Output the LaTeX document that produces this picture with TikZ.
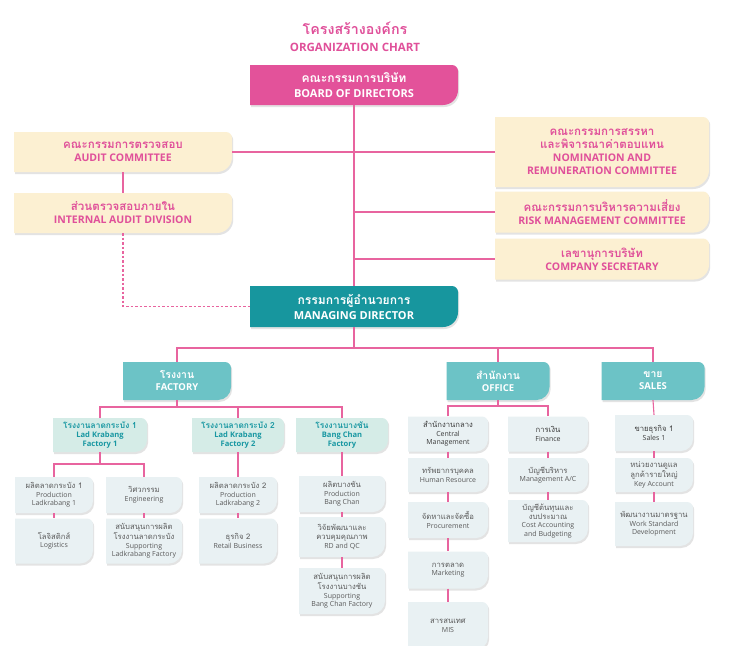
\documentclass[tikz,border=0pt]{standalone}
\usepackage{fontspec}
\setmainfont{Open Sans}
\newfontfamily\thai[Script=Thai,Scale=1.1]{Loma}
\usetikzlibrary{shadows}

\definecolor{pinkline}{HTML}{E8649F}
\definecolor{pinktxt}{HTML}{E0509A}
\definecolor{boardfill}{HTML}{E3529A}
\definecolor{cream}{HTML}{FCF0D2}
\definecolor{mdfill}{HTML}{17969E}
\definecolor{ltwofill}{HTML}{6CC3C6}
\definecolor{lthreefill}{HTML}{D5ECE7}
\definecolor{lthreetxt}{HTML}{1897A2}
\definecolor{lfourfill}{HTML}{E9F1F3}
\definecolor{lfourtxt}{HTML}{5A5A5A}
\definecolor{headtxt}{HTML}{3C3C3C}

% name, fill, text style, cx, cy, w, h, bottom radius, text
\newcommand\orgbox[9]{%
  \fill[#2, drop shadow={opacity=0.22,shadow xshift=1.2pt,shadow yshift=-2pt}]
    ({#4-#6/2},{#5-#7/2}) -- ({#4+#6/2-6},{#5-#7/2})
    .. controls ({#4+#6/2-2.7},{#5-#7/2}) and ({#4+#6/2},{#5-#7/2+2.7}) .. ({#4+#6/2},{#5-#7/2+6})
    -- ({#4+#6/2},{#5+#7/2-#8})
    .. controls ({#4+#6/2},{#5+#7/2-0.45*#8}) and ({#4+#6/2-0.45*#8},{#5+#7/2}) .. ({#4+#6/2-#8},{#5+#7/2})
    -- ({#4-#6/2},{#5+#7/2}) -- cycle;
  \node[#3, minimum width=#6pt, minimum height=#7pt, inner sep=0pt] (#1) at (#4,#5) {#9};
}

\tikzset{
  conn/.style={draw=pinkline, line width=1.1pt},
  tboard/.style={align=center, text=white, font=\fontsize{11}{15}\selectfont\bfseries},
  tcom/.style={align=center, text=pinktxt, font=\fontsize{10.5}{13}\selectfont\bfseries},
  tmd/.style={align=center, text=white, font=\fontsize{11}{15}\selectfont\bfseries},
  ttwo/.style={align=center, text=white, font=\fontsize{9.5}{12}\selectfont\bfseries},
  tthree/.style={align=center, text=lthreetxt, font=\fontsize{7.6}{9.3}\selectfont\bfseries},
  tfour/.style={align=center, text=lfourtxt, font=\fontsize{7}{8.6}\selectfont},
  thead/.style={align=center, text=headtxt, font=\fontsize{7}{8.6}\selectfont},
  ttitle/.style={align=center, text=pinktxt, font=\fontsize{11.5}{17}\selectfont\bfseries},
}

\begin{document}
\begin{tikzpicture}[x=1pt,y=-1pt]
\useasboundingbox (0,0) rectangle (754,645);
\clip (0,0) rectangle (754,645);
\fill[white] (0,0) rectangle (754,645);

\node[ttitle] (title) at (355,37) {{\thai\fontsize{13}{17}\selectfont โครงสร้างองค์กร}\\ORGANIZATION CHART};

% level 1
\orgbox{board}{boardfill}{tboard}{354}{85}{208}{40}{15}{{\thai คณะกรรมการบริษัท}\\BOARD OF DIRECTORS}
\orgbox{audit}{cream}{tcom}{123}{152}{218}{40}{15}{{\thai คณะกรรมการตรวจสอบ}\\AUDIT COMMITTEE}
\orgbox{ia}{cream}{tcom}{123}{213}{218}{40}{15}{{\thai ส่วนตรวจสอบภายใน}\\INTERNAL AUDIT DIVISION}
\orgbox{nom}{cream}{tcom}{602}{152}{214}{70}{17}{{\thai คณะกรรมการสรรหา}\\{\thai และพิจารณาค่าตอบแทน}\\NOMINATION AND\\REMUNERATION COMMITTEE}
\orgbox{risk}{cream}{tcom}{602}{212}{214}{41}{15}{{\thai คณะกรรมการบริหารความเสี่ยง}\\RISK MANAGEMENT COMMITTEE}
\orgbox{sec}{cream}{tcom}{602}{259}{214}{41}{15}{{\thai เลขานุการบริษัท}\\COMPANY SECRETARY}
\orgbox{md}{mdfill}{tmd}{354}{306.5}{208}{41}{15}{{\thai กรรมการผู้อำนวยการ}\\MANAGING DIRECTOR}

% level 2
\orgbox{factory}{ltwofill}{ttwo}{177}{381}{108}{38}{13}{{\thai โรงงาน}\\FACTORY}
\orgbox{office}{ltwofill}{ttwo}{498}{381}{103}{38}{13}{{\thai สำนักงาน}\\OFFICE}
\orgbox{sales}{ltwofill}{ttwo}{653}{381}{103}{38}{13}{{\thai ขาย}\\SALES}

% level 3 factories
\orgbox{lkone}{lthreefill}{tthree}{100}{435}{94}{34}{12}{{\thai โรงงานลาดกระบัง 1}\\Lad Krabang\\Factory 1}
\orgbox{lktwo}{lthreefill}{tthree}{238}{435}{92}{34}{12}{{\thai โรงงานลาดกระบัง 2}\\Lad Krabang\\Factory 2}
\orgbox{bc}{lthreefill}{tthree}{342}{435}{92}{34}{12}{{\thai โรงงานบางชัน}\\Bang Chan\\Factory}

% LK1 children
\orgbox{plkone}{lfourfill}{tfour}{54}{495}{78}{36}{12}{{\thai ผลิตลาดกระบัง 1}\\Production\\Ladkrabang 1}
\orgbox{eng}{lfourfill}{tfour}{144}{495}{76}{36}{12}{{\thai วิศวกรรม}\\Engineering}
\orgbox{logi}{lfourfill}{tfour}{54}{541}{78}{45}{13}{{\thai โลจิสติกส์}\\Logistics}
\orgbox{suplk}{lfourfill}{tfour}{144}{541}{76}{45}{13}{{\thai สนับสนุนการผลิต}\\{\thai โรงงานลาดกระบัง}\\Supporting\\Ladkrabang Factory}

% LK2 children
\orgbox{plktwo}{lfourfill}{tfour}{238}{495}{78}{36}{12}{{\thai ผลิตลาดกระบัง 2}\\Production\\Ladkrabang 2}
\orgbox{retail}{lfourfill}{tfour}{238}{541}{78}{45}{13}{{\thai ธุรกิจ 2}\\Retail Business}

% Bang Chan children
\orgbox{pbc}{lfourfill}{tfour}{342}{494}{86}{36}{12}{{\thai ผลิตบางชัน}\\Production\\Bang Chan}
\orgbox{rd}{lfourfill}{tfour}{342}{537}{86}{40}{13}{{\thai วิจัยพัฒนาและ}\\{\thai ควบคุมคุณภาพ}\\RD and QC}
\orgbox{supbc}{lfourfill}{tfour}{342}{591}{86}{46}{13}{{\thai สนับสนุนการผลิต}\\{\thai โรงงานบางชัน}\\Supporting\\Bang Chan Factory}

% Office children
\orgbox{central}{lfourfill}{thead}{448}{434}{80}{35}{12}{{\thai สำนักงานกลาง}\\Central\\Management}
\orgbox{finance}{lfourfill}{thead}{548}{434}{80}{35}{12}{{\thai การเงิน}\\Finance}
\orgbox{hr}{lfourfill}{tfour}{448}{475}{80}{34}{12}{{\thai ทรัพยากรบุคคล}\\Human Resource}
\orgbox{proc}{lfourfill}{tfour}{448}{520}{80}{36}{12}{{\thai จัดหาและจัดซื้อ}\\Procurement}
\orgbox{mkt}{lfourfill}{tfour}{448}{570}{80}{37}{13}{{\thai การตลาด}\\Marketing}
\orgbox{mis}{lfourfill}{tfour}{448}{626}{80}{48}{13}{{\thai สารสนเทศ}\\MIS}
\orgbox{mac}{lfourfill}{tfour}{548}{475}{80}{34}{12}{{\thai บัญชีบริหาร}\\Management A/C}
\orgbox{cost}{lfourfill}{tfour}{548}{521}{80}{42}{13}{{\thai บัญชีต้นทุนและ}\\{\thai งบประมาณ}\\Cost Accounting\\and Budgeting}

% Sales children
\orgbox{sone}{lfourfill}{thead}{654}{433}{78}{36}{12}{{\thai ขายธุรกิจ 1}\\Sales 1}
\orgbox{key}{lfourfill}{tfour}{654}{475}{78}{34}{12}{{\thai หน่วยงานดูแล}\\{\thai ลูกค้ารายใหญ่}\\Key Account}
\orgbox{wsd}{lfourfill}{tfour}{654}{524}{78}{44}{13}{{\thai พัฒนางานมาตรฐาน}\\Work Standard\\Development}

% bus coordinates
\coordinate (busa) at (0,348);
\coordinate (busb) at (0,407);
\coordinate (busc) at (0,464);
\coordinate (busd) at (0,406);

% connectors level 1
\draw[conn] (board.south) -- (md.north);
\draw[conn] (audit.east) -- (nom.west);
\draw[conn] (board.south |- risk.west) -- (risk.west);
\draw[conn] (board.south |- sec.west) -- (sec.west);
\draw[conn] (audit.south) -- (ia.north);
\draw[conn, dash pattern=on 2.5pt off 2pt] (ia.south) |- (md.west);

% level 2
\draw[conn] (md.south) -- (md.south |- busa);
\draw[conn] (factory.north) |- (sales.north |- busa) -- (sales.north);
\draw[conn] (office.north) -- (office.north |- busa);

% factory level 3
\draw[conn] (factory.south) -- (factory.south |- busb);
\draw[conn] (lkone.north) |- (bc.north |- busb) -- (bc.north);
\draw[conn] (lktwo.north) -- (lktwo.north |- busb);

% LK1 children
\draw[conn] (lkone.south) -- (lkone.south |- busc);
\draw[conn] (plkone.north) |- (eng.north |- busc) -- (eng.north);
\draw[conn] (plkone.south) -- (logi.north);
\draw[conn] (eng.south) -- (suplk.north);

% LK2 children
\draw[conn] (lktwo.south) -- (plktwo.north);
\draw[conn] (plktwo.south) -- (retail.north);

% BC children
\draw[conn] (bc.south) -- (pbc.north);
\draw[conn] (pbc.south) -- (rd.north);
\draw[conn] (rd.south) -- (supbc.north);

% Office
\draw[conn] (office.south) -- (office.south |- busd);
\draw[conn] (central.north) |- (finance.north |- busd) -- (finance.north);
\draw[conn] (central.south) -- (hr.north);
\draw[conn] (hr.south) -- (proc.north);
\draw[conn] (proc.south) -- (mkt.north);
\draw[conn] (mkt.south) -- (mis.north);
\draw[conn] (finance.south) -- (mac.north);
\draw[conn] (mac.south) -- (cost.north);

% Sales
\draw[conn] (sales.south) -- (sone.north);
\draw[conn] (sone.south) -- (key.north);
\draw[conn] (key.south) -- (wsd.north);
\end{tikzpicture}
\end{document}
